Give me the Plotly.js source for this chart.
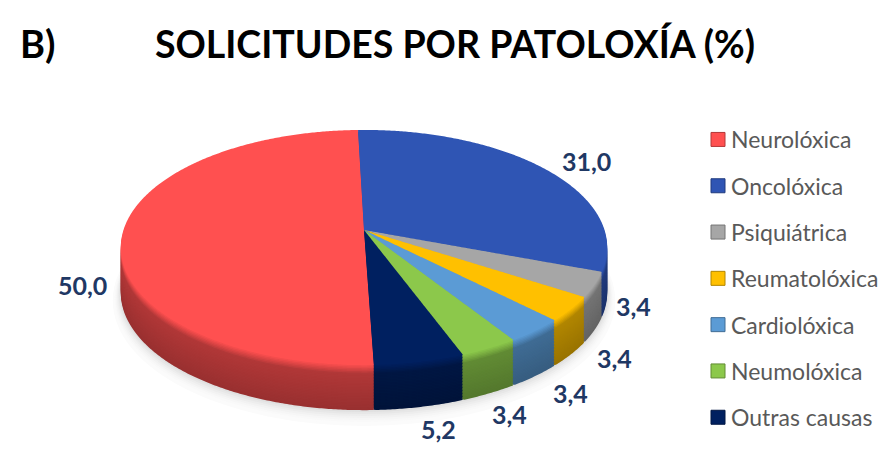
<!DOCTYPE html>
<html><head><meta charset="utf-8">
<script src="https://cdn.plot.ly/plotly-3.0.1.min.js"></script>
<style>html,body{margin:0;padding:0;background:#fff}#c{width:891px;height:472px}</style>
</head><body><div id="c"></div>
<script>
const categories=['Neurolóxica','Oncolóxica','Psiquiátrica','Reumatolóxica','Cardiolóxica','Neumolóxica','Outras causas'];
const values=[50.0,31.0,3.4,3.4,3.4,3.4,5.2];
const colors=['#FF5050','#2F55B4','#A6A6A6','#FFC000','#5B9BD5','#8CC84B','#002060'];
const labelAnchors=[[82,285],[586,161],[633,306],[614,358],[570,393],[510,414],[438,429]];

const W=891,H=472,cx=364,cy=230,a=240.5,b=115,k=0.149,depth=45,step=1.5;
function shade(hex,f){
  const n=parseInt(hex.slice(1),16);
  const c=[n>>16&255,n>>8&255,n&255].map(v=>Math.round(v*f));
  return 'rgb('+c.join(',')+')';
}
function pie(cols){
  return {type:'pie',labels:categories,values:values,sort:false,direction:'clockwise',rotation:178,
    textinfo:'none',hoverinfo:'skip',showlegend:false,marker:{colors:cols,line:{width:0}},domain:{x:[0,1],y:[0,1]}};
}
const offsets=[],traces=[];
for(let d=depth;d>0;d-=step){
  const t=d/depth;
  let f=0.72-0.12*t;
  if(d<9) f=f+(1-f)*(1-d/9);      // bevel between the wall and the top face
  traces.push(pie(colors.map(c=>shade(c,f))));offsets.push(d);
}
traces.push(pie(colors));offsets.push(0);
// legend entries
categories.forEach((n,i)=>traces.push({type:'scatter',mode:'markers',x:[null],y:[null],name:n,legendgroup:'g'+i,showlegend:true,
  marker:{symbol:'square',size:14,color:colors[i],line:{color:shade(colors[i],0.7),width:1}},hoverinfo:'skip'}));

// soft shadow under the pie, built from fading ellipses
const shapes=[];
for(let s=16;s>=0;s-=2){
  const r=1-s/16;
  shapes.push({type:'circle',layer:'below',xref:'paper',yref:'paper',line:{width:0},fillcolor:shade('#ffffff',0.985-0.14*r*r),
    x0:(cx-a*1.0113-s*0.5)/W,x1:(cx+a*1.0113+s*0.5)/W,y0:1-(365+depth+s)/H,y1:1-(130+depth)/H});
}

const annotations=values.map((v,i)=>({xref:'paper',yref:'paper',xanchor:'center',yanchor:'middle',showarrow:false,
  x:labelAnchors[i][0]/W,y:1-labelAnchors[i][1]/H,text:'<b>'+v.toFixed(1).replace('.',',')+'</b>',
  font:{family:'Lato',size:25,color:'#1F3864'}}));
annotations.push({xref:'paper',yref:'paper',xanchor:'center',yanchor:'middle',showarrow:false,x:37/W,y:1-43/H,
  text:'<b>B)</b>',font:{family:'Lato',size:38,color:'#000'}});

const layout={width:W,height:H,margin:{l:0,r:0,t:0,b:0},paper_bgcolor:'#fff',plot_bgcolor:'rgba(0,0,0,0)',
  title:{text:'<b>SOLICITUDES POR PATOLOXÍA (%)</b>',x:455/W,xanchor:'center',y:1-45/H,yanchor:'middle',font:{family:'Lato',size:37.5,color:'#000'}},
  xaxis:{visible:false},yaxis:{visible:false},
  showlegend:true,
  legend:{x:698/W,xanchor:'left',y:1-118/H,yanchor:'top',bgcolor:'rgba(0,0,0,0)',tracegroupgap:13.4,itemwidth:30,
    font:{family:'Lato',size:23,color:'#595959'}},
  shapes:shapes,
  annotations:annotations};

// The pie is tilted in perspective: every slice Plotly drew is re-projected onto the tilted plane.
Plotly.newPlot('c',traces,layout,{displayModeBar:false,staticPlot:true}).then(gd=>{
  const R=H/2;
  gd.querySelectorAll('.pielayer .trace').forEach((g,i)=>{
    const off=offsets[i];
    g.querySelectorAll('path.surface').forEach(p=>{
      const m=p.getCTM(),L=p.getTotalLength(),n=Math.max(8,Math.ceil(L/2));
      const svg=p.ownerSVGElement,pts=[];
      for(let j=0;j<=n;j++){
        const q=p.getPointAtLength(L*j/n);
        const pt=svg.createSVGPoint();pt.x=q.x;pt.y=q.y;
        const s=pt.matrixTransform(m);
        const u=(s.x-W/2)/R,v=(s.y-H/2)/R,w=1-k*v;
        pts.push((cx+a*u/w).toFixed(2)+','+(cy+b*v/w+off).toFixed(2));
      }
      p.removeAttribute('transform');
      p.setAttribute('d','M'+pts.join('L')+'Z');
    });
  });
  gd.querySelectorAll('.legend text.legendtext').forEach(t=>{
    t.setAttribute('x',parseFloat(t.getAttribute('x'))-7);
  });
});
</script></body></html>
